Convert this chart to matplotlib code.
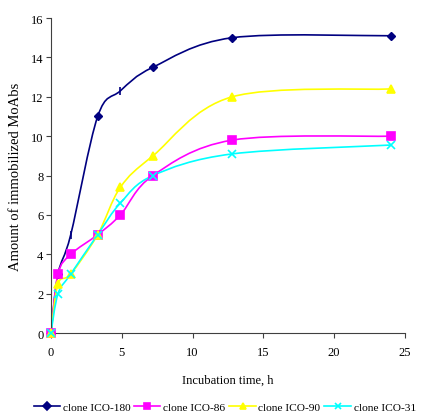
import numpy as np
import matplotlib
matplotlib.use('Agg')
import matplotlib.pyplot as plt
from matplotlib.path import Path
from matplotlib.patches import PathPatch
from matplotlib.lines import Line2D

plt.rcParams['font.family'] = ['Liberation Serif', 'DejaVu Serif']

# incubation time, h
hours = [0, 0.5, 1.4, 3.3, 4.9, 7.2, 12.8, 24]
ico180 = [0, 3.0, 5.0, 11.0, 12.3, 13.5, 15.0, 15.1]
ico86 = [0, 3.0, 4.0, 5.0, 6.0, 8.0, 9.8, 10.0]
ico90 = [0, 2.5, 3.0, 5.0, 7.4, 9.0, 12.0, 12.4]
ico31 = [0, 2.0, 3.0, 5.0, 6.6, 8.0, 9.1, 9.55]

series = [
    ('clone ICO-180', ico180, '#000080', 'D', 4.5),
    ('clone ICO-86', ico86, '#FF00FF', 's', 5.5),
    ('clone ICO-90', ico90, '#FFFF00', '^', 5.5),
    ('clone ICO-31', ico31, '#00FFFF', 'x', 5.5),
]

XMAX, YMAX = 25.0, 16.0


def smooth_path(xs, ys, t=1 / 6):
    # excel-style smoothed line: cubic bezier through each point
    p = np.column_stack([np.array(xs) / XMAX, np.array(ys) / YMAX])
    n = len(p)
    verts = [p[0]]
    codes = [Path.MOVETO]
    for i in range(n - 1):
        p0 = p[i - 1] if i > 0 else p[i]
        p3 = p[i + 2] if i + 2 < n else p[i + 1]
        c1 = p[i] + (p[i + 1] - p0) * t
        c2 = p[i + 1] - (p3 - p[i]) * t
        verts += [c1, c2, p[i + 1]]
        codes += [Path.CURVE4] * 3
    v = np.array(verts) * [XMAX, YMAX]
    return Path(v, codes)


fig = plt.figure(figsize=(4.28, 4.14), dpi=100)
ax = fig.add_axes([0.119, 0.193, 0.827, 0.761])

handles = []
for name, vals, col, mk, ms in series:
    ax.add_patch(PathPatch(smooth_path(hours, vals), facecolor='none',
                           edgecolor=col, lw=1.2, zorder=2))
    if name == 'clone ICO-180':
        idx = [0, 1, 3, 5, 6, 7]
        ax.plot([hours[i] for i in idx], [vals[i] for i in idx], ls='none',
                marker=mk, ms=ms, color=col, zorder=3, clip_on=False)
        ax.plot([hours[2], hours[4]], [vals[2], vals[4]], ls='none',
                marker='|', ms=6, mew=1.2, color=col, zorder=3)
    else:
        ax.plot(hours, vals, ls='none', marker=mk, ms=ms, mew=1.2,
                color=col, zorder=3, clip_on=False)
    handles.append(Line2D([], [], color=col, lw=1.2, marker=mk, ms=ms - 0.5,
                          mew=1.2, label=name))

ax.set_xlim(0, XMAX)
ax.set_ylim(0, YMAX)
ax.set_xticks(range(0, 26, 5))
ax.set_yticks(range(0, 17, 2))
ax.spines['top'].set_visible(False)
ax.spines['right'].set_visible(False)
for s in ['left', 'bottom']:
    ax.spines[s].set_color('#404040')
    ax.spines[s].set_linewidth(0.8)
ax.tick_params(direction='out', length=3.5, width=0.8, color='#404040',
               labelsize=9)
ax.tick_params(axis='y', pad=2)
ax.tick_params(axis='x', pad=6)
ax.set_xlabel('Incubation time, h', fontsize=9, labelpad=11)
ax.set_ylabel('Amount of immobilized MoAbs', fontsize=10.5, labelpad=6)

fig.legend(handles=handles, loc='center', ncol=4, frameon=False,
           fontsize=8.2, bbox_to_anchor=(0.525, 0.0145), handlelength=2.3,
           handletextpad=0.25, columnspacing=0.35)

fig.savefig('out.png', dpi=100)
